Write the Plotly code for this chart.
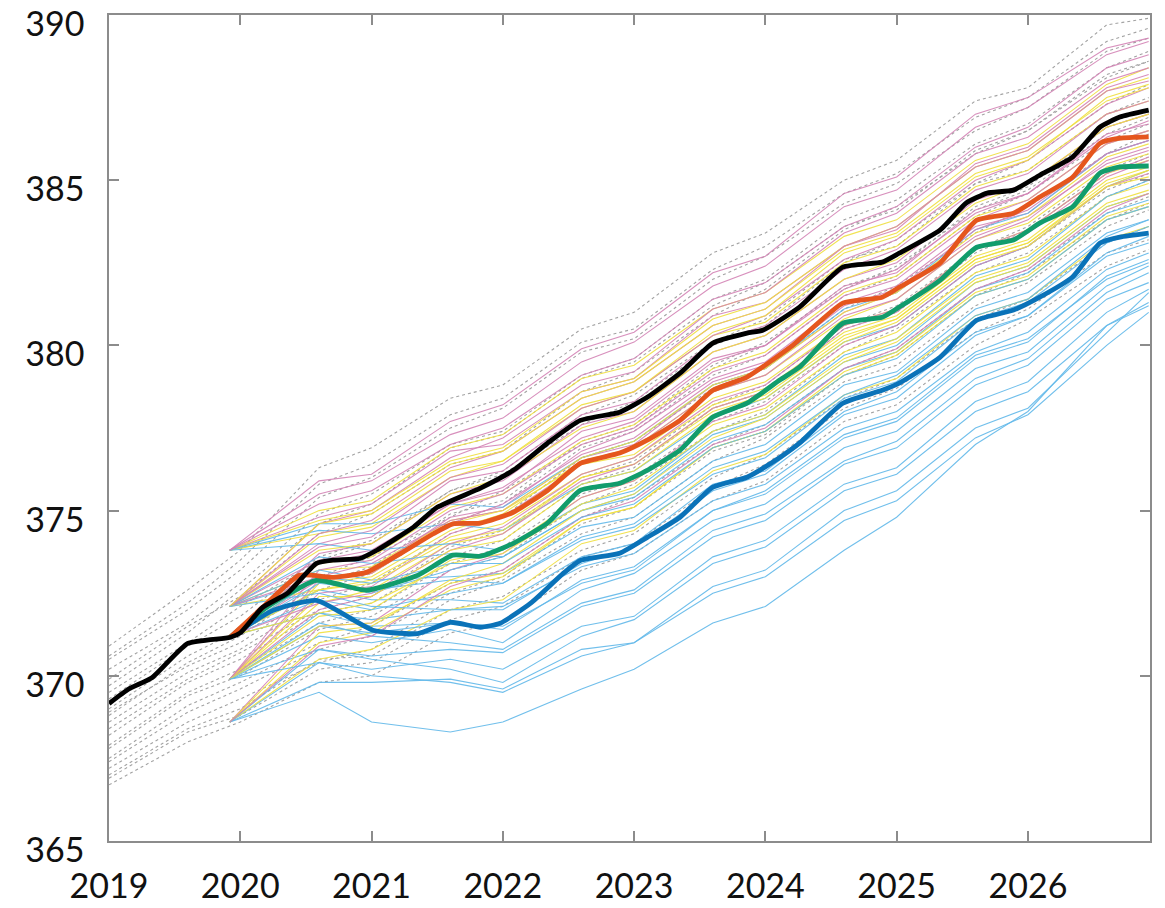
import plotly.graph_objects as go

# ---------------- data ----------------
# thin-member time grids (decimal years)
t_gray = [2019.0, 2019.6, 2020.0, 2020.6, 2021.0, 2021.6, 2022.0, 2022.6, 2023.0,
          2023.6, 2024.0, 2024.6, 2025.0, 2025.6, 2026.0, 2026.6, 2026.92]
t_member = [2019.92, 2020.6, 2021.0, 2021.6, 2022.0, 2022.6, 2023.0, 2023.6, 2024.0,
            2024.6, 2025.0, 2025.6, 2026.0, 2026.6, 2026.92]

gray_members = [
    [370.9, 372.6, 373.8, 376.3, 376.9, 378.4, 378.8, 380.5, 381.0, 382.8, 383.4, 385.0, 385.6, 387.4, 387.8, 389.7, 389.9],
    [370.5, 372.0, 373.2, 375.4, 376.0, 377.5, 378.1, 379.8, 380.2, 382.0, 382.7, 384.3, 384.9, 386.5, 387.2, 388.9, 389.3],
    [369.9, 371.5, 372.4, 374.3, 374.9, 376.4, 376.8, 378.6, 379.2, 380.9, 381.7, 383.5, 384.2, 385.8, 386.5, 388.1, 388.6],
    [369.5, 371.0, 372.1, 373.5, 374.0, 375.6, 376.1, 377.6, 378.3, 380.0, 380.6, 382.5, 383.2, 384.9, 385.6, 387.3, 387.9],
    [369.0, 370.6, 371.4, 373.0, 373.6, 374.8, 375.6, 377.0, 377.5, 379.3, 380.0, 381.8, 382.3, 384.2, 384.8, 386.6, 387.0],
    [368.6, 370.1, 370.8, 372.3, 372.8, 374.3, 374.8, 376.6, 377.1, 378.7, 379.3, 381.1, 381.8, 383.4, 384.2, 385.8, 386.4],
    [368.2, 369.8, 370.5, 371.9, 372.2, 373.6, 374.1, 375.8, 376.3, 378.1, 378.6, 380.5, 381.0, 382.8, 383.5, 385.2, 385.7],
    [367.8, 369.4, 370.0, 371.4, 371.8, 373.2, 373.6, 375.2, 375.8, 377.4, 378.0, 379.8, 380.5, 382.2, 382.8, 384.5, 385.0],
    [367.4, 368.9, 369.6, 370.8, 371.2, 372.5, 373.0, 374.6, 375.1, 376.8, 377.3, 379.1, 379.7, 381.5, 382.2, 383.8, 384.3],
    [367.0, 368.4, 369.0, 370.5, 370.6, 372.0, 372.4, 373.8, 374.3, 376.0, 376.7, 378.4, 379.0, 380.8, 381.4, 383.1, 383.6],
    [366.7, 368.0, 368.6, 369.8, 370.0, 371.3, 371.6, 373.2, 373.7, 375.3, 375.9, 377.7, 378.2, 380.0, 380.8, 382.4, 382.9],
    [367.2, 368.6, 369.3, 370.4, 370.8, 372.3, 372.9, 374.3, 374.8, 376.5, 377.2, 378.9, 379.4, 381.2, 381.9, 383.6, 384.1],
    [370.2, 371.6, 372.8, 374.9, 375.5, 377.0, 377.4, 379.1, 379.6, 381.4, 382.0, 383.8, 384.4, 386.1, 386.7, 388.4, 388.9],
    [368.9, 370.3, 371.0, 372.6, 373.1, 374.6, 375.2, 376.9, 377.4, 379.1, 379.7, 381.5, 382.1, 383.9, 384.6, 386.2, 386.7],
    [370.6, 372.2, 373.5, 375.8, 376.4, 377.9, 378.4, 380.1, 380.5, 382.3, 383.0, 384.6, 385.2, 386.9, 387.5, 389.2, 389.6],
    [369.7, 371.3, 372.6, 374.6, 375.2, 376.9, 377.3, 379.0, 379.5, 381.2, 381.9, 383.6, 384.1, 385.9, 386.5, 388.2, 388.6],
    [369.3, 370.9, 371.8, 373.6, 374.1, 375.6, 376.2, 377.9, 378.5, 380.1, 380.8, 382.6, 383.0, 384.9, 385.3, 387.0, 387.5],
    [368.8, 370.4, 371.2, 372.8, 373.3, 374.9, 375.3, 377.1, 377.6, 379.4, 380.1, 381.7, 382.4, 384.1, 384.7, 386.4, 386.9],
    [368.4, 369.9, 370.7, 372.0, 372.4, 373.9, 374.4, 376.0, 376.5, 378.2, 378.8, 380.6, 381.2, 382.9, 383.6, 385.3, 385.8],
    [367.9, 369.5, 370.2, 371.6, 372.0, 373.4, 373.9, 375.5, 376.0, 377.7, 378.3, 380.0, 380.6, 382.4, 383.0, 384.7, 385.2],
    [367.5, 369.1, 369.8, 371.0, 371.5, 372.8, 373.2, 374.8, 375.4, 377.0, 377.6, 379.3, 379.9, 381.7, 382.3, 384.0, 384.5],
    [366.9, 368.3, 368.8, 370.2, 370.4, 371.7, 372.1, 373.6, 374.0, 375.7, 376.4, 378.1, 378.7, 380.4, 381.1, 382.8, 383.2],
]

pink_members = [
    [373.8, 375.5, 375.9, 377.3, 377.8, 379.5, 380.1, 381.8, 382.4, 384.2, 384.7, 386.6, 387.2, 388.8, 389.2],
    [372.1, 374.6, 375.0, 376.6, 377.2, 378.8, 379.2, 381.1, 381.6, 383.4, 384.0, 385.8, 386.3, 388.0, 388.4],
    [372.1, 374.0, 374.4, 376.0, 376.4, 378.1, 378.6, 380.3, 380.9, 382.6, 383.2, 385.0, 385.6, 387.3, 387.8],
    [371.2, 373.7, 374.0, 375.5, 375.9, 377.6, 378.0, 379.8, 380.3, 382.0, 382.5, 384.4, 384.9, 386.6, 387.0],
    [369.9, 373.2, 373.5, 375.0, 375.5, 377.0, 377.5, 379.2, 379.7, 381.5, 382.0, 383.8, 384.4, 386.1, 386.5],
    [372.1, 373.5, 373.8, 375.2, 375.6, 377.4, 377.8, 379.6, 380.0, 381.8, 382.2, 384.1, 384.6, 386.3, 386.8],
    [369.9, 372.5, 372.7, 374.3, 374.8, 376.4, 376.9, 378.6, 379.1, 380.9, 381.4, 383.2, 383.8, 385.6, 386.0],
    [371.2, 372.9, 373.2, 374.8, 375.1, 376.8, 377.4, 379.0, 379.5, 381.3, 381.8, 383.6, 384.0, 385.8, 386.2],
    [368.6, 371.5, 371.6, 373.2, 373.7, 375.4, 375.9, 377.7, 378.2, 380.0, 380.6, 382.4, 383.0, 384.8, 385.2],
    [373.8, 374.8, 375.2, 376.8, 377.0, 378.6, 379.0, 380.9, 381.3, 383.0, 383.5, 385.5, 386.0, 387.8, 388.2],
    [372.1, 373.0, 373.4, 374.7, 375.0, 376.6, 377.0, 378.8, 379.3, 381.0, 381.6, 383.3, 383.9, 385.5, 385.9],
    [369.9, 372.0, 372.4, 373.8, 374.3, 375.9, 376.4, 378.1, 378.6, 380.5, 381.0, 382.9, 383.4, 385.1, 385.6],
    [373.8, 375.9, 376.1, 377.7, 378.2, 379.9, 380.4, 382.2, 382.7, 384.6, 385.1, 387.0, 387.5, 389.0, 389.3],
    [372.1, 374.3, 374.7, 376.3, 376.8, 378.4, 378.9, 380.6, 381.1, 383.0, 383.6, 385.4, 385.9, 387.7, 388.0],
    [371.2, 373.4, 373.7, 375.2, 375.7, 377.2, 377.7, 379.5, 380.0, 381.7, 382.3, 384.0, 384.6, 386.4, 386.7],
    [369.9, 372.9, 373.1, 374.6, 375.2, 376.7, 377.2, 378.9, 379.4, 381.2, 381.7, 383.5, 384.1, 385.8, 386.2],
    [372.1, 373.9, 374.2, 375.9, 376.2, 377.9, 378.3, 380.1, 380.6, 382.3, 382.9, 384.7, 385.2, 387.0, 387.4],
    [371.2, 372.2, 372.5, 374.0, 374.5, 376.1, 376.6, 378.3, 378.8, 380.6, 381.1, 382.9, 383.5, 385.2, 385.7],
    [368.6, 370.9, 371.2, 372.7, 373.2, 374.8, 375.3, 377.0, 377.5, 379.3, 379.9, 381.7, 382.3, 384.1, 384.6],
    [373.8, 375.2, 375.6, 377.0, 377.5, 379.1, 379.6, 381.4, 381.9, 383.6, 384.2, 386.0, 386.6, 388.4, 388.8],
]

yellow_members = [
    [373.8, 375.0, 375.3, 376.9, 377.3, 379.0, 379.4, 381.1, 381.6, 383.3, 383.8, 385.6, 386.1, 387.9, 388.4],
    [372.1, 374.2, 374.5, 376.0, 376.5, 378.1, 378.6, 380.3, 380.7, 382.5, 383.0, 384.8, 385.3, 387.0, 387.4],
    [371.2, 373.4, 373.6, 375.1, 375.5, 377.1, 377.6, 379.3, 379.8, 381.6, 382.1, 383.9, 384.4, 386.1, 386.5],
    [369.9, 372.8, 373.0, 374.4, 374.9, 376.5, 376.9, 378.6, 379.1, 380.8, 381.4, 383.2, 383.7, 385.4, 385.8],
    [372.1, 373.2, 373.3, 374.7, 375.0, 376.4, 376.7, 378.4, 378.9, 380.6, 381.1, 382.9, 383.5, 385.2, 385.6],
    [369.9, 371.8, 372.0, 373.5, 373.8, 375.4, 375.9, 377.6, 378.1, 379.8, 380.4, 382.2, 382.7, 384.5, 384.9],
    [368.6, 371.0, 371.3, 372.6, 373.0, 374.7, 375.1, 376.9, 377.4, 379.1, 379.7, 381.5, 382.0, 383.8, 384.2],
    [371.2, 372.6, 372.9, 374.2, 374.6, 376.1, 376.6, 378.2, 378.7, 380.4, 380.9, 382.7, 383.2, 385.0, 385.4],
    [369.9, 372.2, 372.6, 374.0, 374.3, 376.0, 376.4, 378.0, 378.5, 380.2, 380.8, 382.6, 383.1, 384.8, 385.3],
    [368.6, 370.5, 370.8, 372.0, 372.3, 374.0, 374.4, 376.2, 376.7, 378.5, 379.0, 380.9, 381.4, 383.2, 383.6],
    [373.8, 374.3, 374.6, 376.2, 376.5, 378.2, 378.6, 380.4, 380.9, 382.8, 383.3, 385.1, 385.6, 387.5, 387.9],
    [372.1, 372.6, 372.8, 374.1, 374.4, 376.0, 376.4, 378.1, 378.6, 380.3, 380.8, 382.6, 383.1, 384.9, 385.3],
    [373.8, 374.7, 375.0, 376.5, 376.9, 378.6, 379.0, 380.8, 381.3, 383.0, 383.6, 385.4, 385.9, 387.7, 388.1],
    [372.1, 373.8, 374.0, 375.5, 376.0, 377.5, 378.0, 379.8, 380.3, 382.0, 382.6, 384.3, 384.9, 386.6, 387.0],
    [371.2, 373.0, 373.1, 374.6, 375.0, 376.6, 377.1, 378.8, 379.3, 381.0, 381.6, 383.4, 383.9, 385.7, 386.1],
    [369.9, 372.4, 372.4, 373.8, 374.1, 375.8, 376.2, 377.9, 378.4, 380.1, 380.7, 382.5, 383.0, 384.8, 385.1],
    [368.6, 371.3, 371.5, 372.9, 373.4, 375.0, 375.5, 377.2, 377.8, 379.5, 380.1, 381.9, 382.4, 384.2, 384.6],
    [371.2, 371.9, 372.2, 373.4, 373.7, 375.2, 375.7, 377.4, 377.9, 379.6, 380.2, 382.0, 382.5, 384.3, 384.7],
    [369.9, 371.5, 371.6, 372.8, 373.1, 374.7, 375.1, 376.9, 377.4, 379.2, 379.8, 381.6, 382.1, 383.9, 384.3],
    [372.1, 374.6, 374.9, 376.4, 376.8, 378.4, 378.9, 380.6, 381.1, 382.9, 383.4, 385.2, 385.7, 387.4, 387.8],
]

skyblue_members = [
    [368.6, 369.5, 368.6, 368.3, 368.6, 369.6, 370.2, 371.6, 372.1, 373.8, 374.8, 377.0, 378.0, 380.6, 381.2],
    [368.6, 370.4, 370.2, 370.5, 370.2, 371.5, 371.8, 373.6, 374.1, 375.8, 376.3, 378.3, 378.9, 381.0, 381.7],
    [369.9, 371.6, 371.2, 371.0, 370.8, 372.2, 372.6, 374.4, 374.9, 376.5, 377.1, 379.0, 379.6, 381.6, 382.2],
    [369.9, 371.9, 371.7, 372.0, 372.1, 373.3, 373.7, 375.3, 375.8, 377.5, 378.0, 379.8, 380.4, 382.3, 382.8],
    [371.2, 372.6, 372.3, 372.3, 372.2, 373.6, 374.0, 375.8, 376.2, 378.0, 378.6, 380.4, 380.9, 382.8, 383.3],
    [372.1, 373.2, 372.9, 373.0, 373.1, 374.5, 374.8, 376.5, 377.0, 378.8, 379.2, 381.1, 381.6, 383.4, 383.8],
    [371.2, 371.9, 371.5, 371.6, 371.4, 372.9, 373.3, 375.0, 375.6, 377.3, 377.8, 379.7, 380.2, 382.0, 382.5],
    [373.8, 374.4, 374.3, 374.6, 374.4, 375.8, 376.2, 377.8, 378.4, 380.1, 380.6, 382.4, 383.0, 384.8, 385.3],
    [369.9, 370.8, 370.5, 370.2, 369.8, 371.2, 371.7, 373.4, 373.9, 375.6, 376.1, 378.0, 378.6, 380.6, 381.3],
    [372.1, 372.9, 372.5, 373.2, 373.6, 375.0, 375.5, 377.3, 377.8, 379.5, 380.0, 381.9, 382.4, 384.2, 384.6],
    [368.6, 369.8, 369.8, 369.9, 369.6, 370.8, 371.0, 372.7, 373.2, 375.0, 375.6, 377.5, 378.1, 380.4, 381.6],
    [371.2, 372.3, 372.0, 372.5, 372.8, 374.1, 374.5, 376.1, 376.6, 378.4, 378.9, 380.8, 381.3, 383.1, 383.6],
    [373.8, 374.0, 373.8, 374.0, 373.8, 375.2, 375.6, 377.4, 377.9, 379.7, 380.2, 382.1, 382.6, 384.5, 385.0],
    [369.9, 371.2, 371.0, 371.4, 371.0, 372.6, 373.1, 374.7, 375.2, 376.9, 377.4, 379.3, 379.8, 381.8, 382.4],
    [373.8, 374.6, 374.6, 375.2, 375.1, 376.6, 377.1, 378.8, 379.3, 381.1, 381.6, 383.5, 384.0, 385.8, 386.2],
    [372.1, 373.6, 373.4, 373.7, 373.6, 375.0, 375.4, 377.1, 377.6, 379.3, 379.8, 381.7, 382.2, 384.0, 384.4],
    [371.2, 372.8, 372.6, 372.9, 372.8, 374.2, 374.6, 376.3, 376.8, 378.5, 379.1, 380.9, 381.4, 383.3, 383.8],
    [369.9, 371.5, 371.3, 371.6, 371.5, 372.8, 373.2, 375.0, 375.5, 377.2, 377.7, 379.6, 380.1, 382.1, 382.6],
    [368.6, 370.8, 370.6, 370.8, 370.7, 372.1, 372.5, 374.2, 374.7, 376.4, 376.9, 378.8, 379.4, 381.4, 381.9],
    [369.9, 370.4, 370.0, 369.8, 369.5, 370.6, 371.0, 372.5, 373.0, 374.7, 375.3, 377.2, 377.9, 380.0, 381.0],
    [371.2, 373.0, 372.8, 373.4, 373.4, 374.8, 375.2, 376.9, 377.4, 379.1, 379.6, 381.5, 382.0, 383.8, 384.2],
    [372.1, 372.5, 372.1, 372.0, 372.0, 373.4, 373.9, 375.6, 376.1, 377.9, 378.4, 380.3, 380.9, 382.7, 383.1],
]

# thick curves
t_black = [2019.0, 2019.15, 2019.33, 2019.6, 2019.92, 2020.0, 2020.17, 2020.36, 2020.58, 2020.71,
           2020.91, 2021.04, 2021.32, 2021.50, 2021.83, 2022.08, 2022.34, 2022.59, 2022.89,
           2023.10, 2023.35, 2023.60, 2023.86, 2023.98, 2024.26, 2024.59, 2024.89, 2025.02,
           2025.33, 2025.53, 2025.69, 2025.89, 2026.09, 2026.34, 2026.55, 2026.70, 2026.92]
v_black = [369.16, 369.6, 369.95, 370.98, 371.16, 371.3, 372.07, 372.5, 373.4, 373.5,
           373.55, 373.8, 374.5, 375.1, 375.68, 376.22, 377.04, 377.73, 377.98,
           378.43, 379.16, 380.07, 380.37, 380.46, 381.16, 382.37, 382.52, 382.79,
           383.49, 384.31, 384.61, 384.70, 385.15, 385.70, 386.61, 386.91, 387.12]

t_orange = [2019.92, 2020.17, 2020.45, 2020.71, 2020.96, 2021.22, 2021.47, 2021.62, 2021.83,
            2022.08, 2022.34, 2022.59, 2022.89, 2023.10, 2023.35, 2023.60, 2023.86, 2024.21,
            2024.59, 2024.89, 2025.02, 2025.33, 2025.61, 2025.89, 2026.09, 2026.34, 2026.55,
            2026.70, 2026.92]
v_orange = [371.16, 372.07, 373.04, 372.98, 373.13, 373.7, 374.3, 374.6, 374.62,
            374.95, 375.61, 376.43, 376.74, 377.13, 377.73, 378.64, 379.04, 380.01,
            381.28, 381.46, 381.76, 382.49, 383.79, 384.0, 384.49, 385.09, 386.12,
            386.27, 386.31]

t_green = [2019.92, 2020.20, 2020.58, 2020.96, 2021.35, 2021.62, 2021.83, 2022.08, 2022.34,
           2022.59, 2022.89, 2023.10, 2023.35, 2023.60, 2023.86, 2024.11, 2024.26, 2024.59,
           2024.89, 2025.02, 2025.33, 2025.61, 2025.89, 2026.09, 2026.34, 2026.55, 2026.70,
           2026.92]
v_green = [371.16, 372.07, 372.89, 372.59, 373.04, 373.65, 373.62, 374.01, 374.62,
           375.61, 375.83, 376.22, 376.83, 377.83, 378.25, 378.95, 379.34, 380.67,
           380.85, 381.16, 381.97, 382.97, 383.19, 383.70, 384.19, 385.22, 385.40,
           385.43]

t_blue = [2019.92, 2020.25, 2020.58, 2021.01, 2021.35, 2021.60, 2021.83, 2021.98, 2022.21,
          2022.46, 2022.59, 2022.89, 2023.10, 2023.35, 2023.60, 2023.86, 2024.11, 2024.26,
          2024.59, 2024.89, 2025.02, 2025.33, 2025.61, 2025.89, 2026.09, 2026.34, 2026.55,
          2026.70, 2026.92]
v_blue = [371.16, 371.98, 372.28, 371.38, 371.28, 371.62, 371.47, 371.59, 372.19,
          373.10, 373.49, 373.71, 374.19, 374.80, 375.71, 376.01, 376.61, 377.04,
          378.25, 378.64, 378.86, 379.64, 380.76, 381.07, 381.46, 382.07, 383.10,
          383.28, 383.40]

year_ticks = [2019, 2020, 2021, 2022, 2023, 2024, 2025, 2026]
year_labels = ["2019", "2020", "2021", "2022", "2023", "2024", "2025", "2026"]
value_ticks = [365, 370, 375, 380, 385, 390]

# ---------------- figure ----------------
fig = go.Figure()

for m in gray_members:
    fig.add_trace(go.Scatter(x=t_gray, y=m, mode="lines",
                             line=dict(color="#a3a3a3", width=1.1, dash="dot"),
                             hoverinfo="skip"))

thin_groups = [(skyblue_members, "#62b9ea"), (yellow_members, "#f0e040"),
               (pink_members, "#d484b6")]
# interleave groups so colours mix like the original
maxlen = max(len(g[0]) for g in thin_groups)
for i in range(maxlen):
    for members, col in thin_groups:
        if i < len(members):
            fig.add_trace(go.Scatter(x=t_member, y=members[i], mode="lines",
                                     line=dict(color=col, width=1.1),
                                     opacity=0.9, hoverinfo="skip"))

for tx, vy, col in [(t_blue, v_blue, "#0a72b8"), (t_green, v_green, "#119c6c"),
                    (t_orange, v_orange, "#e5561d"), (t_black, v_black, "#000000")]:
    fig.add_trace(go.Scatter(x=tx, y=vy, mode="lines",
                             line=dict(color=col, width=4.8, shape="spline", smoothing=0.5),
                             hoverinfo="skip"))

axis_common = dict(showgrid=False, zeroline=False, showline=True, mirror="ticks",
                   linecolor="#8c8c8c", linewidth=1.5, ticks="inside", ticklen=10,
                   tickwidth=1.5, tickcolor="#8c8c8c", ticklabeloverflow="allow",
                   automargin=False,
                   tickfont=dict(family="Lato, 'Open Sans', sans-serif", size=34, color="#111111"))

fig.update_layout(
    width=1165, height=908,
    margin=dict(l=109, r=15, t=15, b=67),
    paper_bgcolor="white", plot_bgcolor="white",
    showlegend=False,
    xaxis=dict(range=[2019, 2026.93], tickvals=year_ticks, ticktext=year_labels,
               ticklabelstandoff=14, **axis_common),
    yaxis=dict(range=[365, 390], tickvals=value_ticks,
               ticklabelstandoff=16, ticklabelshift=9, **axis_common),
)

fig.write_html("out.html", config={"displayModeBar": False},
               post_script="document.body.style.margin='0px';")
